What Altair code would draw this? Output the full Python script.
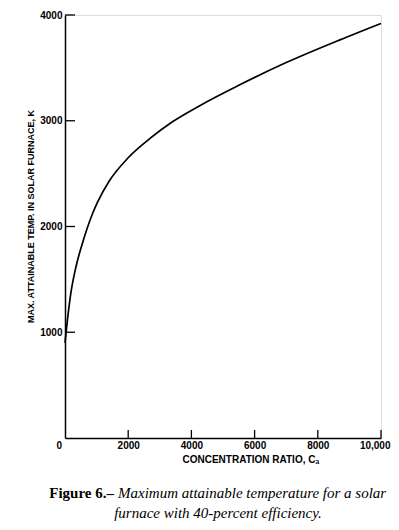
import altair as alt
import pandas as pd

# Data
ratio = [0, 75, 180, 340, 550, 710, 870, 1030, 1400, 2000, 2700, 3400, 4250, 5500, 7000, 8700, 10000]
temp = [900, 1110, 1360, 1610, 1840, 1990, 2120, 2230, 2430, 2650, 2835, 2990, 3140, 3335, 3550, 3765, 3920]
x_ticks = [2000, 4000, 6000, 8000, 10000]
y_ticks = [1000, 2000, 3000, 4000]
x_labels = [0, 2000, 4000, 6000, 8000, 10000]

W, H = 316, 423
SANS = "Liberation Sans"
SERIF = "Liberation Serif"

df = pd.DataFrame({"ratio": ratio, "temp": temp})
xs = alt.Scale(domain=[0, 10000], nice=False, zero=True)
ys = alt.Scale(domain=[0, 4000], nice=False, zero=True)

x_axis = alt.Axis(
    values=x_labels,
    labelExpr="datum.value == 10000 ? '10,000' : datum.value + ''",
    tickSize=0, grid=False, domainColor="black", domainWidth=1.5,
    labelFont=SANS, labelFontWeight="bold", labelFontSize=10, labelColor="black",
    labelPadding=2, labelFlush=True, labelFlushOffset=9,
    title="CONCENTRATION RATIO, Cₐ", titleFont=SANS, titleFontWeight="bold",
    titleFontSize=10, titleColor="black", titleX=117, titleY=21,
    titleAlign="left", titleBaseline="middle",
)
y_axis = alt.Axis(
    values=y_ticks, format="d",
    tickSize=0, grid=False, domainColor="black", domainWidth=1.5,
    labelFont=SANS, labelFontWeight="bold", labelFontSize=10, labelColor="black",
    labelPadding=3,
    title="MAX. ATTAINABLE TEMP. IN SOLAR FURNACE, K", titleFont=SANS,
    titleFontWeight="bold", titleFontSize=9, titleColor="black",
    titleX=-35, titleY=201, titleAngle=270, titleAlign="center", titleBaseline="middle",
)

curve = alt.Chart(df).mark_line(color="black", strokeWidth=1.7, interpolate="monotone").encode(
    x=alt.X("ratio:Q", scale=xs, axis=x_axis),
    y=alt.Y("temp:Q", scale=ys, axis=y_axis),
)

xt = alt.Chart(pd.DataFrame({"v": x_ticks})).mark_rule(color="black", strokeWidth=1.3).encode(
    x=alt.X("v:Q", scale=xs), y=alt.value(H), y2=alt.value(H - 8)
)
yt = alt.Chart(pd.DataFrame({"v": y_ticks})).mark_rule(color="black", strokeWidth=1.3).encode(
    y=alt.Y("v:Q", scale=ys), x=alt.value(0), x2=alt.value(10)
)

CAP = 15
cap1a = alt.Chart(pd.DataFrame({"t": ["Figure 6.–"]})).mark_text(
    font=SERIF, fontSize=CAP, fontWeight="bold", align="right", baseline="alphabetic", color="black"
).encode(text="t:N", x=alt.value(49), y=alt.value(483))
cap1b = alt.Chart(pd.DataFrame({"t": ["Maximum attainable temperature for a solar"]})).mark_text(
    font=SERIF, fontSize=CAP, fontStyle="italic", align="left", baseline="alphabetic", color="black"
).encode(text="t:N", x=alt.value(53), y=alt.value(483))
cap2 = alt.Chart(pd.DataFrame({"t": ["furnace with 40-percent efficiency."]})).mark_text(
    font=SERIF, fontSize=CAP, fontStyle="italic", align="center", baseline="alphabetic", color="black"
).encode(text="t:N", x=alt.value(153), y=alt.value(503))

chart = alt.layer(curve, xt, yt, cap1a, cap1b, cap2).properties(
    width=W, height=H,
    autosize=alt.AutoSizeParams(type="none"),
    padding={"left": 57, "top": 7, "right": 10, "bottom": 84},
).configure_view(stroke=None).configure(background="white")

chart.save("out.html", embed_options={"renderer": "svg", "actions": False})
